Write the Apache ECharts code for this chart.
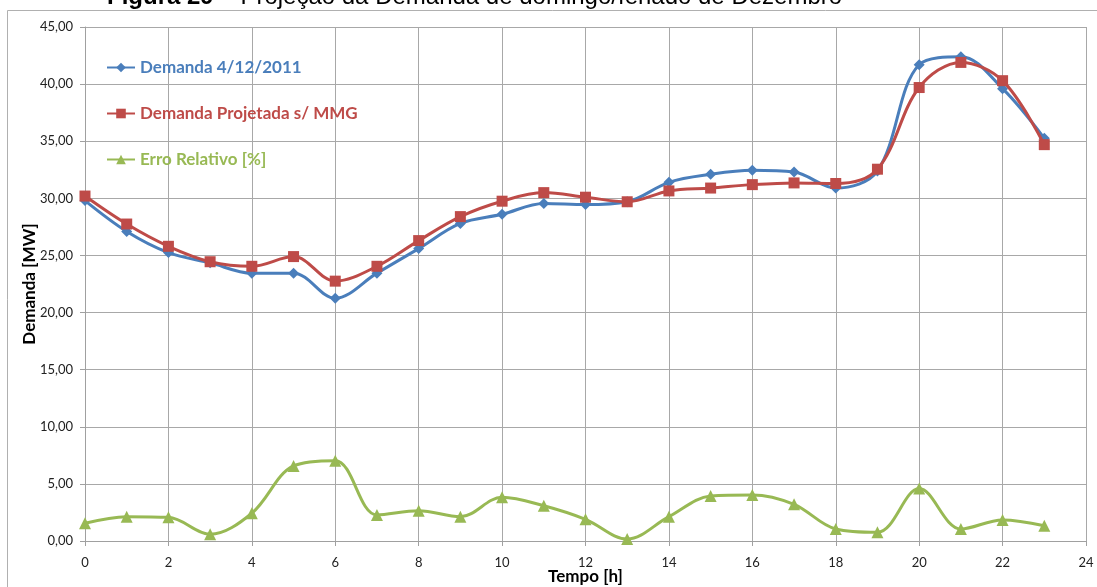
<!DOCTYPE html>
<html>
<head>
<meta charset="utf-8">
<script src="https://cdn.jsdelivr.net/npm/echarts@6/dist/echarts.min.js"></script>
<style>html,body{margin:0;padding:0;background:#fff;}#c{width:1097px;height:587px;}</style>
</head>
<body>
<div id="c"></div>
<script>
var hours = [0,1,2,3,4,5,6,7,8,9,10,11,12,13,14,15,16,17,18,19,20,21,22,23];
var demanda = [29.8,27.1,25.25,24.35,23.45,23.45,21.25,23.45,25.6,27.8,28.6,29.55,29.45,29.7,31.4,32.1,32.45,32.3,30.9,32.4,41.7,42.4,39.6,35.25];
var projetada = [30.2,27.75,25.8,24.45,24.05,24.9,22.75,24.05,26.3,28.4,29.75,30.5,30.1,29.7,30.65,30.9,31.2,31.35,31.3,32.55,39.7,41.9,40.3,34.7];
var erro = [1.55,2.13,2.07,0.59,2.43,6.57,7.03,2.28,2.65,2.13,3.83,3.09,1.9,0.17,2.13,3.94,4.03,3.21,1.05,0.76,4.6,1.05,1.84,1.34];
var seriesNames = ['Demanda 4/12/2011','Demanda Projetada s/ MMG','Erro Relativo [%]'];
var titleBold = 'Figura 29';
var titleRest = ' – Projeção da Demanda de domingo/feriado de Dezembro';

function pairs(xs, ys){ return xs.map(function(x,i){ return [x, ys[i]]; }); }
var fmt = function(v){ return v.toFixed(2).replace('.', ','); };
var FONT = 'Lato, "Open Sans", sans-serif';

var chart = echarts.init(document.getElementById('c'), null, {renderer:'canvas'});
chart.setOption({
  animation:false,
  backgroundColor:'#fff',
  graphic:[
    {type:'rect', shape:{x:7.5,y:10.5,width:1200,height:700}, style:{fill:'none', stroke:'#b0b0b0', lineWidth:1}, z:-1},
    {type:'text', left:107, top:-15, style:{
      text:'{b|'+titleBold+'}{n|'+titleRest+'}',
      rich:{b:{fontFamily:'Liberation Sans, Arial, sans-serif', fontWeight:'bold', fontSize:24, fill:'#000'},
            n:{fontFamily:'Liberation Sans, Arial, sans-serif', fontSize:24, fill:'#000'}}
    }}
  ],
  grid:{left:85, right:11, top:27, bottom:46, containLabel:false, outerBoundsMode:'none'},
  legend:{
    orient:'vertical', left:101, top:54, itemGap:29, itemWidth:28, itemHeight:12,
    data:seriesNames,
    textStyle:{fontFamily:FONT, fontWeight:'bold', fontSize:17, color:'inherit'}
  },
  xAxis:{
    type:'value', min:0, max:24, interval:2,
    name:'Tempo [h]', nameLocation:'middle', nameGap:27, nameMoveOverlap:false,
    nameTextStyle:{fontFamily:FONT, fontWeight:'bold', fontSize:17, color:'#000'},
    axisLine:{show:true, lineStyle:{color:'#a0a0a0'}},
    axisTick:{show:true, length:5, lineStyle:{color:'#a0a0a0'}},
    axisLabel:{fontFamily:FONT, fontSize:13, color:'#222', margin:15},
    splitLine:{show:true, lineStyle:{color:'#a8a8a8', width:1}}
  },
  yAxis:{
    type:'value', min:0, max:45, interval:5,
    name:'Demanda [MW]', nameLocation:'middle', nameGap:47, nameRotate:90, nameMoveOverlap:false,
    nameTextStyle:{fontFamily:FONT, fontWeight:'bold', fontSize:17, color:'#000'},
    axisLine:{show:true, lineStyle:{color:'#a0a0a0'}},
    axisTick:{show:true, length:5, lineStyle:{color:'#a0a0a0'}},
    axisLabel:{fontFamily:FONT, fontSize:13, color:'#222', margin:12, formatter:fmt},
    splitLine:{show:true, lineStyle:{color:'#a8a8a8', width:1}}
  },
  series:[
    {name:seriesNames[0], type:'line', data:pairs(hours, demanda), smooth:0.35,
     symbol:'diamond', symbolSize:11, color:'#4a7ebb',
     lineStyle:{width:3, color:'#4a7ebb'}, itemStyle:{color:'#4a7ebb'}, z:3},
    {name:seriesNames[1], type:'line', data:pairs(hours, projetada), smooth:0.35,
     symbol:'rect', symbolSize:11, color:'#be4b48',
     lineStyle:{width:3, color:'#be4b48'}, itemStyle:{color:'#be4b48'}, z:4},
    {name:seriesNames[2], type:'line', data:pairs(hours, erro), smooth:0.35,
     symbol:'triangle', symbolSize:12, color:'#98b954',
     lineStyle:{width:3, color:'#98b954'}, itemStyle:{color:'#98b954'}, z:3}
  ]
});
</script>
</body>
</html>
